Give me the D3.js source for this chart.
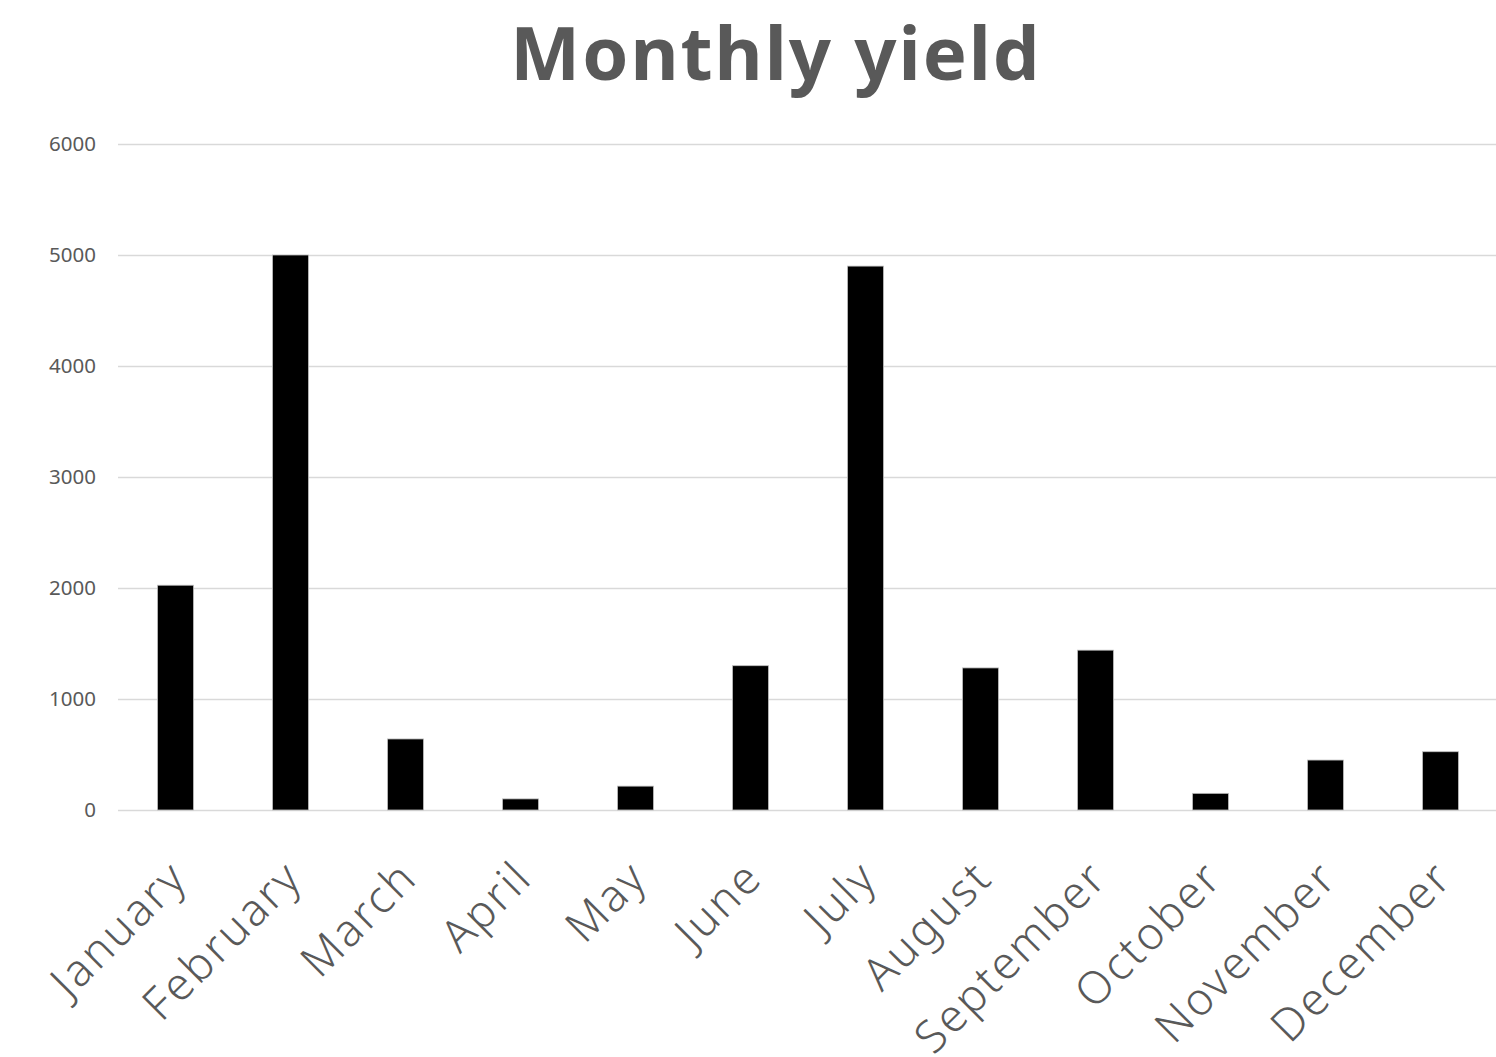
<!DOCTYPE html>
<html>
<head>
<meta charset="utf-8">
<script src="https://cdn.jsdelivr.net/npm/d3@7"></script>
<style>
  html, body { margin: 0; padding: 0; background: #ffffff; }
  svg { display: block; }
</style>
</head>
<body>
<svg id="chart" width="1496" height="1057"></svg>
<script>
// Monthly yield figures
const months = ["January", "February", "March", "April", "May", "June",
                "July", "August", "September", "October", "November", "December"];
const yieldValues = [2025, 5000, 640, 100, 215, 1300, 4900, 1280, 1440, 150, 450, 525];
const yTicks = [0, 1000, 2000, 3000, 4000, 5000, 6000];
const titleText = "Monthly yield";

const svg = d3.select("#chart");
const W = 1496, H = 1057;
const margin = { left: 118, right: -2, top: 144, bottom: 247 };
const textColor = "#595959";

const x = d3.scaleBand()
  .domain(months)
  .range([margin.left, W - margin.right])
  .paddingInner(0.687)
  .paddingOuter(0.3435);

const y = d3.scaleLinear()
  .domain([0, 6000])
  .range([H - margin.bottom, margin.top]);

// Title
svg.append("text")
  .attr("x", 776)
  .attr("y", 80)
  .attr("text-anchor", "middle")
  .attr("font-family", "'Noto Sans', 'DejaVu Sans', sans-serif")
  .attr("font-weight", "bold")
  .attr("font-size", 74)
  .attr("letter-spacing", 2)
  .attr("fill", textColor)
  .text(titleText);

// Horizontal gridlines
svg.append("g")
  .selectAll("line")
  .data(yTicks)
  .join("line")
  .attr("x1", margin.left)
  .attr("x2", W)
  .attr("y1", d => Math.round(y(d)) + 0.5)
  .attr("y2", d => Math.round(y(d)) + 0.5)
  .attr("stroke", "#d9d9d9")
  .attr("stroke-width", 1.5);

// Y axis labels
const yAxis = d3.axisLeft(y).tickValues(yTicks).tickFormat(d3.format("d")).tickSize(0).tickPadding(0);
const gy = svg.append("g")
  .attr("transform", `translate(${margin.left - 22},0)`)
  .call(yAxis);
gy.select(".domain").remove();
gy.selectAll("text")
  .attr("font-family", "'Noto Sans', 'DejaVu Sans', sans-serif")
  .attr("font-size", 20.5)
  .attr("fill", textColor);

// Bars
svg.append("g")
  .selectAll("rect")
  .data(months.map((m, i) => ({ month: m, value: yieldValues[i] })))
  .join("rect")
  .attr("x", d => x(d.month))
  .attr("y", d => y(d.value))
  .attr("width", x.bandwidth())
  .attr("height", d => y(0) - y(d.value))
  .attr("fill", "#000000")
  .attr("stroke", "#bfbfbf")
  .attr("stroke-width", 0.8);

// X axis labels, rotated
const xAxis = d3.axisBottom(x).tickSize(0).tickPadding(0);
const gx = svg.append("g")
  .attr("transform", `translate(0,${y(0)})`)
  .call(xAxis);
gx.select(".domain").remove();
gx.selectAll("text")
  .attr("font-family", "'Noto Sans', sans-serif")
  .attr("font-weight", 300)
  .attr("font-size", 45)
  .attr("letter-spacing", 2.5)
  .attr("fill", textColor)
  .attr("text-anchor", "end")
  .attr("dy", null)
  .attr("transform", "translate(14,70) rotate(-45)");
</script>
</body>
</html>
